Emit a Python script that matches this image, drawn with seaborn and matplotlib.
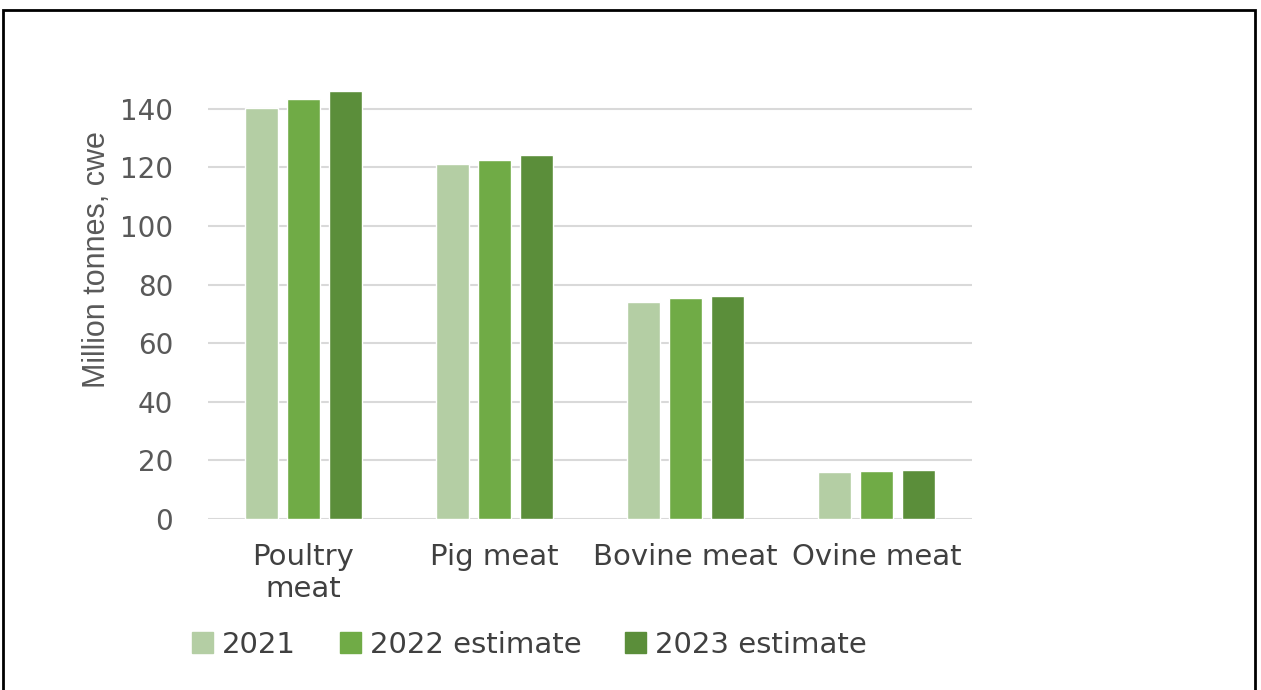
import matplotlib
matplotlib.use("Agg")
import matplotlib.pyplot as plt
import seaborn as sns
import pandas as pd
from matplotlib.patches import Rectangle

categories = ["Poultry\nmeat", "Pig meat", "Bovine meat", "Ovine meat"]
series_names = ["2021", "2022 estimate", "2023 estimate"]
v2021 = [140.3, 121.2, 74.2, 15.9]
v2022 = [143.3, 122.5, 75.4, 16.4]
v2023 = [146.1, 124.2, 76.2, 16.6]
yticks = [0, 20, 40, 60, 80, 100, 120, 140]
colors = ["#B4CEA4", "#70AB46", "#5B8E3A"]

rows = []
for name, vals in zip(series_names, [v2021, v2022, v2023]):
    for c, v in zip(categories, vals):
        rows.append({"cat": c, "series": name, "value": v})
df = pd.DataFrame(rows)

sns.set_theme(style="white")
plt.rcParams['font.family'] = ['DejaVu Sans']

fig = plt.figure(figsize=(12.61, 6.90), dpi=100)
ax = fig.add_axes([208/1261, 1-519/690, (972-208)/1261, (519-79.5)/690])

sns.barplot(data=df, x="cat", y="value", hue="series", order=categories,
            hue_order=series_names, palette=colors, width=0.66, gap=0.21,
            ax=ax, legend=False, saturation=1)

ax.set_ylim(0, 150)
ax.set_xlim(-0.5, 3.5)
ax.set_yticks(yticks)
ax.set_yticklabels([str(t) for t in yticks], color="#595959", fontsize=20)
ax.tick_params(axis='x', colors="#404040", labelsize=21, length=0, pad=17)
ax.tick_params(axis='y', length=0, pad=25)
for lbl in ax.get_xticklabels():
    lbl.set_linespacing(1.22)
    lbl.set_verticalalignment('top')
ax.grid(axis='y', color="#D9D9D9", linewidth=1.5)
ax.set_axisbelow(True)
for s in ax.spines.values():
    s.set_visible(False)
ax.set_xlabel("")
ax.set_ylabel("Million tonnes, cwe", color="#595959", fontsize=22,
              family=['Liberation Sans'])
ax.yaxis.set_label_coords(-96/764, (519-260)/(519-79.5))

handles = [Rectangle((0, 0), 1, 1, color=c) for c in colors]
fig.legend(handles, series_names, loc='center', bbox_to_anchor=(529.5/1261, 1-645/690),
           ncol=3, frameon=False, fontsize=21, handlelength=0.72, handleheight=0.72,
           handletextpad=0.3, columnspacing=1.5, labelcolor="#404040")

fig.add_artist(Rectangle((3/1261, -0.1), (1255-3)/1261, 1.1 - 10/690,
                         transform=fig.transFigure, fill=False, edgecolor="black",
                         linewidth=2))

fig.savefig("out.png", dpi=100)
